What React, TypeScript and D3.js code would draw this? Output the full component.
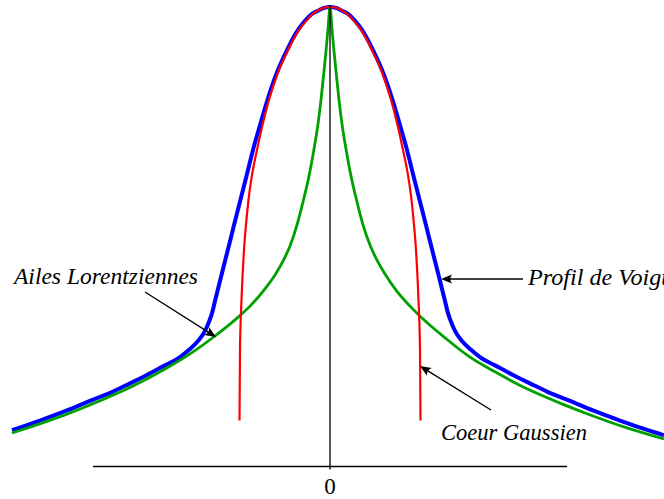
import React from "react";
import * as d3 from "d3";

// Line profiles: offset from line centre (arbitrary units) and relative intensity (peak = 100)
const voigtOffset = [
  -31.8, -29.0, -26.3, -24.0, -21.7, -20.0, -18.4, -16.6, -15.0, -14.1, -13.2, -12.5,
  -12.1, -11.77, -11.48, -10.85, -10.22, -9.59, -8.96, -8.33, -7.7, -7.0, -6.25, -5.4,
  -4.3, -3.2, -2.5, -1.8, -1.2, -0.6, 0,
  0.6, 1.2, 1.8, 2.5, 3.2, 4.3, 5.4, 6.25, 7.0, 7.7, 8.33, 8.96, 9.59, 10.22, 10.85,
  11.48, 11.77, 12.1, 12.5, 13.2, 14.1, 15.0, 16.6, 18.4, 20.0, 21.7, 24.0, 26.3, 29.0,
  31.8, 33.4,
];
const voigtIntensity = [
  7.9, 10.0, 12.2, 14.3, 16.3, 18.1, 19.8, 21.9, 23.8, 25.4, 27.3, 29.5,
  31.5, 33.6, 36.2, 41.7, 47.1, 52.6, 58.0, 63.4, 68.9, 74.3, 79.8, 85.2,
  90.6, 95.0, 97.0, 98.5, 99.2, 99.8, 100,
  99.8, 99.2, 98.5, 97.0, 95.0, 90.6, 85.2, 79.8, 74.3, 68.9, 63.4, 58.0, 52.6, 47.1, 41.7,
  36.2, 33.6, 31.5, 29.5, 27.3, 25.4, 23.8, 21.9, 19.8, 18.1, 16.3, 14.3, 12.2, 10.0,
  7.9, 6.8,
];

const lorentzOffset = [
  -31.8, -29.7, -26.3, -23.0, -19.7, -16.5, -14.0, -11.5, -9.5, -8.0, -6.6, -5.5,
  -4.7, -4.0, -3.3, -2.7, -2.1, -1.6, -1.2, -0.9, -0.65, -0.4, -0.2, 0,
  0.2, 0.4, 0.65, 0.9, 1.2, 1.6, 2.1, 2.7, 3.3, 4.0, 4.7, 5.5, 6.6, 8.0, 9.5, 11.5,
  14.0, 16.5, 19.7, 23.0, 26.3, 29.7, 33.4,
];
const lorentzIntensity = [
  7.3, 8.8, 11.4, 14.3, 17.5, 21.2, 24.5, 28.4, 31.9, 34.9, 38.4, 41.7,
  44.7, 48.0, 52.6, 57.6, 63.2, 69.1, 74.5, 79.8, 85.0, 90.4, 95.2, 100,
  95.2, 90.4, 85.0, 79.8, 74.5, 69.1, 63.2, 57.6, 52.6, 48.2, 44.9, 41.9, 38.4, 34.9, 31.7, 28.0,
  23.8, 20.6, 16.9, 13.8, 11.0, 8.4, 6.0,
];

const gaussOffset = [
  -9.05, -9.0, -8.85, -8.6, -8.4, -8.15, -7.8, -7.3, -6.75, -6.1, -5.3, -4.2, -3.1, -2.3, -1.6, -0.8, 0,
  0.8, 1.6, 2.3, 3.1, 4.2, 5.3, 6.1, 6.75, 7.3, 7.8, 8.15, 8.4, 8.6, 8.85, 9.0, 9.05,
];
const gaussIntensity = [
  10.0, 25.4, 36.2, 47.1, 52.6, 58.0, 63.4, 68.9, 74.3, 79.8, 85.2, 90.6, 95.0, 97.2, 98.7, 99.7, 100,
  99.7, 98.7, 97.2, 95.0, 90.6, 85.2, 79.8, 74.3, 68.9, 63.4, 58.0, 52.6, 47.1, 36.2, 25.4, 10.0,
];

const axisExtent = [-23.7, 23.7];
const zeroLabel = "0";
const labelWings = "Ailes Lorentziennes";
const labelVoigt = "Profil de Voigt";
const labelCore = "Coeur Gaussien";

const W = 664;
const H = 499;

const x = d3.scaleLinear().domain([-32, 32]).range([10, 650]);
const y = d3.scaleLinear().domain([0, 100]).range([466.5, 7]);

const line = d3
  .line<[number, number]>()
  .x((d) => x(d[0]))
  .y((d) => y(d[1]))
  .curve(d3.curveMonotoneX);

const zip = (a: number[], b: number[]): [number, number][] => a.map((v, i) => [v, b[i]]);

const fontFamily = "Liberation Serif";

function Arrow({ x1, y1, x2, y2 }: { x1: number; y1: number; x2: number; y2: number }) {
  const a = Math.atan2(y2 - y1, x2 - x1);
  const ang = (a * 180) / Math.PI;
  return (
    <g>
      <line x1={x1} y1={y1} x2={x2 - 4 * Math.cos(a)} y2={y2 - 4 * Math.sin(a)} stroke="#000" strokeWidth={1.3} />
      <path transform={`translate(${x2},${y2}) rotate(${ang})`} d="M0,0 L-11,-4.6 Q-7.5,0 -11,4.6 Z" fill="#000" />
    </g>
  );
}

export default function App() {
  return (
    <svg width={W} height={H} style={{ position: "absolute", left: 0, top: 0, background: "#fff" }}>
      <path d={line(zip(voigtOffset, voigtIntensity)) ?? ""} fill="none" stroke="#0000ff" strokeWidth={4} />
      <path d={line(zip(lorentzOffset, lorentzIntensity)) ?? ""} fill="none" stroke="#00a000" strokeWidth={2.8} />
      <path d={line(zip(gaussOffset, gaussIntensity)) ?? ""} fill="none" stroke="#ff0000" strokeWidth={2.2} />

      {/* axes */}
      <line x1={x(axisExtent[0])} x2={x(axisExtent[1])} y1={y(0)} y2={y(0)} stroke="#000" strokeWidth={1.3} />
      <line x1={x(0)} x2={x(0)} y1={y(100) - 2} y2={y(0) + 3} stroke="#000" strokeWidth={1.3} />
      <text x={x(0)} y={494} textAnchor="middle" fontFamily={fontFamily} fontSize={23}>
        {zeroLabel}
      </text>

      {/* annotations */}
      <text x={14} y={284} fontFamily={fontFamily} fontStyle="italic" fontSize={23} textLength={184} lengthAdjust="spacingAndGlyphs">
        {labelWings}
      </text>
      <Arrow x1={145} y1={292} x2={216} y2={337} />

      <text x={528} y={285} fontFamily={fontFamily} fontStyle="italic" fontSize={23} textLength={140} lengthAdjust="spacingAndGlyphs">
        {labelVoigt}
      </text>
      <Arrow x1={523} y1={279} x2={441} y2={279} />

      <text x={441} y={440} fontFamily={fontFamily} fontStyle="italic" fontSize={23} textLength={146} lengthAdjust="spacingAndGlyphs">
        {labelCore}
      </text>
      <Arrow x1={491} y1={410} x2={420} y2={366} />
    </svg>
  );
}
